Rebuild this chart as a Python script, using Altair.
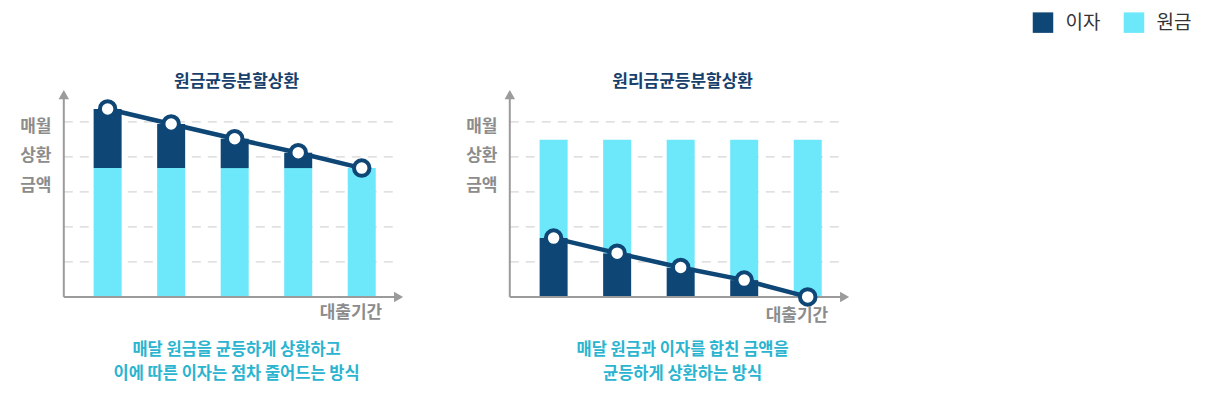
import altair as alt
import pandas as pd

# ---------------- data ----------------
periods = [1, 2, 3, 4, 5]
series_types = ["이자", "원금"]

left_title = "원금균등분할상환"
left_principal = [3.68, 3.68, 3.68, 3.68, 3.68]
left_interest = [1.69, 1.26, 0.84, 0.44, 0.0]
left_caption = "매달 원금을 균등하게 상환하고\n이에 따른 이자는 점차 줄어드는 방식"

right_title = "원리금균등분할상환"
right_principal = [2.81, 3.24, 3.65, 4.01, 4.49]
right_interest = [1.68, 1.25, 0.84, 0.48, 0.0]
right_caption = "매달 원금과 이자를 합친 금액을\n균등하게 상환하는 방식"

y_label = "매월\n상환\n금액"
x_label = "대출기간"
grid_levels = [1, 2, 3, 4, 5]

# ---------------- style ----------------
NAVY = "#0E4676"
CYAN = "#6CE8FA"
AXIS_GRAY = "#9B9B9B"
GRID = "#D6D6D6"
TITLE_C = "#17406B"
CAPTION_C = "#2AB4CF"
LABEL_C = "#8C8C8C"
FONT = "Noto Sans CJK KR"

X_DOMAIN = [-0.45, 6.35]
Y_DOMAIN = [-2.45, 8.14]
PX_PER_X = 65
PX_PER_Y = 35
W = (X_DOMAIN[1] - X_DOMAIN[0]) * PX_PER_X
H = (Y_DOMAIN[1] - Y_DOMAIN[0]) * PX_PER_Y

AXIS_X = 0.31
AXIS_TOP = 5.78
AXIS_RIGHT = 5.58
GRID_END = 5.5

xs = alt.Scale(domain=X_DOMAIN, nice=False, zero=False)
ys = alt.Scale(domain=Y_DOMAIN, nice=False, zero=False)


def X(f):
    return alt.X(f, type="quantitative", scale=xs, axis=None)


def Y(f):
    return alt.Y(f, type="quantitative", scale=ys, axis=None)


def panel(title, principal, interest, interest_on_top, caption, xlabel_y):
    rows = []
    for p, pr, it in zip(periods, principal, interest):
        if interest_on_top:
            rows.append({"period": p, "type": "원금", "y0": 0, "y1": pr})
            rows.append({"period": p, "type": "이자", "y0": pr, "y1": pr + it})
        else:
            rows.append({"period": p, "type": "이자", "y0": 0, "y1": it})
            rows.append({"period": p, "type": "원금", "y0": it, "y1": it + pr})
    bars_df = pd.DataFrame(rows)

    if interest_on_top:
        line_vals = [a + b for a, b in zip(principal, interest)]
    else:
        line_vals = list(interest)
    line_df = pd.DataFrame({"period": periods, "v": line_vals})

    grid_df = pd.DataFrame({"lvl": grid_levels, "x0": AXIS_X, "x1": GRID_END})
    grid = alt.Chart(grid_df).mark_rule(
        color=GRID, strokeWidth=1.3, strokeDash=[9, 7]
    ).encode(x=X("x0"), x2="x1", y=Y("lvl"))

    bars = alt.Chart(bars_df).mark_bar(size=28).encode(
        x=X("period"),
        y=Y("y0"),
        y2="y1",
        color=alt.Color(
            "type:N",
            scale=alt.Scale(domain=series_types, range=[NAVY, CYAN]),
            legend=alt.Legend(
                title=None,
                orient="none",
                direction="horizontal",
                legendX=1022,
                legendY=0,
                symbolType="square",
                symbolSize=420,
                symbolStrokeWidth=0,
                symbolOpacity=1,
                labelFont=FONT,
                labelFontSize=19,
                labelColor="#333333",
                labelOffset=12,
                columnPadding=23,
            ),
        ),
    )

    axes_df = pd.DataFrame(
        {"x0": [AXIS_X, AXIS_X], "x1": [AXIS_X, AXIS_RIGHT], "y0": [0, 0], "y1": [AXIS_TOP, 0]}
    )
    axes = alt.Chart(axes_df).mark_rule(color=AXIS_GRAY, strokeWidth=2).encode(
        x=X("x0"), x2="x1", y=Y("y0"), y2="y1"
    )
    arrow_df = pd.DataFrame(
        {"x": [AXIS_X, AXIS_RIGHT], "y": [AXIS_TOP, 0], "shape": ["triangle-up", "triangle-right"]}
    )
    arrows = alt.Chart(arrow_df).mark_point(
        filled=True, color=AXIS_GRAY, opacity=1, size=110
    ).encode(x=X("x"), y=Y("y"), shape=alt.Shape("shape:N", scale=None))

    line = alt.Chart(line_df).mark_line(color=NAVY, strokeWidth=4.5).encode(
        x=X("period"), y=Y("v")
    )
    pts = alt.Chart(line_df).mark_point(
        shape="circle", filled=True, fill="white", stroke=NAVY, strokeWidth=4,
        size=240, opacity=1,
    ).encode(x=X("period"), y=Y("v"))

    text_df = pd.DataFrame(
        {
            "x": [3.03, -0.13, 4.83, 3.03],
            "y": [6.15, 4.86, xlabel_y, -1.51],
            "t": [title, y_label, x_label, caption],
            "kind": ["title", "ylab", "xlab", "cap"],
        }
    )

    def txt(kind, **kw):
        return alt.Chart(text_df).transform_filter(
            alt.datum.kind == kind
        ).mark_text(font=FONT, fontWeight="bold", baseline="middle", lineBreak="\n", **kw).encode(
            x=X("x"), y=Y("y"), text="t:N"
        )

    texts = [
        txt("title", fontSize=17, color=TITLE_C),
        txt("ylab", fontSize=17, color=LABEL_C, lineHeight=29.5),
        txt("xlab", fontSize=17, color=LABEL_C),
        txt("cap", fontSize=16.5, color=CAPTION_C, lineHeight=24),
    ]

    return alt.layer(grid, bars, axes, arrows, line, pts, *texts).properties(width=W, height=H)


left = panel(left_title, left_principal, left_interest, True, left_caption, -0.46)
right = panel(right_title, right_principal, right_interest, False, right_caption, -0.55)

chart = alt.hconcat(left, right, spacing=4, bounds="flush").properties(
    padding={"left": 2.5, "top": 4, "right": 0, "bottom": 0},
    background="white",
).configure_view(stroke=None)

chart.save("out.html", embed_options={"renderer": "svg", "actions": False})
